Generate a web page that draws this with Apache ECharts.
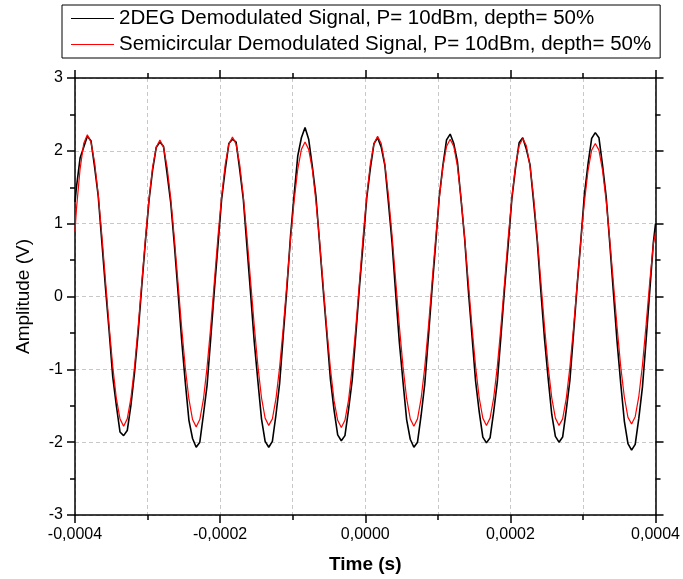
<!DOCTYPE html>
<html>
<head>
<meta charset="utf-8">
<script src="https://cdn.jsdelivr.net/npm/echarts@6/dist/echarts.min.js"></script>
<style>
  html, body { margin: 0; padding: 0; background: #fff; }
  #chart { width: 683px; height: 579px; }
</style>
</head>
<body>
<div id="chart"></div>
<script>
// Sample times in microseconds (converted to seconds below)
const timeUs = [
  -400, -398, -393, -388,
  -383, -378, -373, -368, -363, -358, -353, -348, -343, -338, -333, -328, -323, -318, -313, -308, -303, -298, -293, -288,
  -283, -278, -273, -268, -263, -258, -253, -248, -243, -238, -233, -228, -223, -218, -213, -208, -203, -198, -193, -188,
  -183, -178, -173, -168, -163, -158, -153, -148, -143, -138, -133, -128, -123, -118, -113, -108, -103, -98, -93, -88,
  -83, -78, -73, -68, -63, -58, -53, -48, -43, -38, -33, -28, -23, -18, -13, -8, -3, 2, 7, 12,
  17, 22, 27, 32, 37, 42, 47, 52, 57, 62, 67, 72, 77, 82, 87, 92, 97, 102, 107, 112,
  117, 122, 127, 132, 137, 142, 147, 152, 157, 162, 167, 172, 177, 182, 187, 192, 197, 202, 207, 212,
  217, 222, 227, 232, 237, 242, 247, 252, 257, 262, 267, 272, 277, 282, 287, 292, 297, 302, 307, 312,
  317, 322, 327, 332, 337, 342, 347, 352, 357, 362, 367, 372, 377, 382, 387, 392, 397, 400
];

// 2DEG demodulated signal (V)
const signal2DEG = [
  1.30, 1.50, 1.90, 2.05,
  2.20, 2.14, 1.78, 1.38, 0.75, 0.12, -0.47, -1.10, -1.50, -1.86, -1.91, -1.84, -1.50, -1.05, -0.50, 0.14, 0.75, 1.32, 1.74, 2.05,
  2.12, 2.06, 1.68, 1.28, 0.70, 0.06, -0.60, -1.18, -1.70, -1.95, -2.07, -2.00, -1.62, -1.22, -0.58, 0.08, 0.70, 1.33, 1.74, 2.10,
  2.16, 2.12, 1.74, 1.33, 0.68, 0.04, -0.62, -1.16, -1.68, -1.99, -2.07, -1.99, -1.62, -1.19, -0.53, 0.11, 0.83, 1.40, 1.93, 2.18,
  2.32, 2.16, 1.79, 1.38, 0.74, 0.10, -0.51, -1.14, -1.56, -1.90, -1.98, -1.91, -1.55, -1.15, -0.52, 0.13, 0.72, 1.35, 1.76, 2.10,
  2.18, 2.05, 1.80, 1.28, 0.73, 0.03, -0.63, -1.17, -1.69, -1.96, -2.07, -2.00, -1.63, -1.20, -0.56, 0.10, 0.72, 1.37, 1.80, 2.15,
  2.23, 2.10, 1.85, 1.33, 0.79, 0.09, -0.53, -1.16, -1.58, -1.93, -2.01, -1.94, -1.58, -1.17, -0.54, 0.11, 0.71, 1.34, 1.76, 2.11,
  2.18, 2.02, 1.81, 1.30, 0.76, 0.07, -0.58, -1.12, -1.62, -1.92, -2.00, -1.93, -1.56, -1.15, -0.51, 0.15, 0.76, 1.40, 1.82, 2.17,
  2.25, 2.18, 1.80, 1.37, 0.72, 0.05, -0.62, -1.19, -1.71, -2.02, -2.11, -2.03, -1.67, -1.24, -0.60, 0.07, 0.74, 1.00
];

// Semicircular demodulated signal (V)
const signalSemicircular = [
  0.90, 1.20, 1.75, 2.10,
  2.22, 2.12, 1.84, 1.40, 0.84, 0.22, -0.40, -0.96, -1.40, -1.68, -1.78, -1.68, -1.40, -0.97, -0.42, 0.19, 0.79, 1.34, 1.78, 2.05,
  2.15, 2.05, 1.77, 1.34, 0.79, 0.18, -0.43, -0.98, -1.41, -1.69, -1.79, -1.69, -1.41, -0.97, -0.42, 0.20, 0.82, 1.37, 1.81, 2.09,
  2.19, 2.09, 1.81, 1.37, 0.82, 0.21, -0.40, -0.95, -1.39, -1.67, -1.77, -1.68, -1.40, -0.97, -0.43, 0.18, 0.78, 1.32, 1.75, 2.02,
  2.12, 2.02, 1.75, 1.31, 0.77, 0.16, -0.45, -0.99, -1.43, -1.70, -1.80, -1.70, -1.42, -0.98, -0.42, 0.20, 0.82, 1.38, 1.82, 2.10,
  2.20, 2.10, 1.82, 1.38, 0.83, 0.21, -0.41, -0.96, -1.40, -1.68, -1.78, -1.68, -1.40, -0.97, -0.42, 0.19, 0.80, 1.35, 1.78, 2.06,
  2.16, 2.06, 1.79, 1.35, 0.80, 0.20, -0.41, -0.96, -1.39, -1.67, -1.77, -1.67, -1.39, -0.96, -0.41, 0.20, 0.81, 1.36, 1.79, 2.07,
  2.17, 2.07, 1.79, 1.36, 0.81, 0.20, -0.41, -0.96, -1.39, -1.67, -1.77, -1.68, -1.40, -0.97, -0.43, 0.17, 0.76, 1.30, 1.73, 2.01,
  2.10, 2.01, 1.73, 1.31, 0.77, 0.18, -0.42, -0.96, -1.38, -1.66, -1.75, -1.65, -1.37, -0.94, -0.39, 0.20, 0.72, 0.88
];

const seriesNames = [
  '2DEG Demodulated Signal, P= 10dBm, depth= 50%',
  'Semicircular Demodulated Signal, P= 10dBm, depth= 50%'
];
const xRange = [-0.0004, 0.0004];
const xLabelStep = 0.0002;
const yRange = [-3, 3];
const yLabelStep = 1;

const FONT = '"Liberation Sans", Arial, sans-serif';

function fmtX(v) {
  if (Math.abs(v) < 1e-12) return '0,0000';
  return v.toFixed(4).replace('.', ',');
}

const data2DEG = timeUs.map((t, i) => [t * 1e-6, signal2DEG[i]]);
const dataSemi = timeUs.map((t, i) => [t * 1e-6, signalSemicircular[i]]);

const axisLine = { show: true, onZero: false, lineStyle: { color: '#000', width: 1.5 } };
const gridDash = { show: true, lineStyle: { color: '#c8c8c8', type: [4, 3], width: 1 } };

const chart = echarts.init(document.getElementById('chart'), null, { renderer: 'canvas' });
chart.setOption({
  animation: false,
  backgroundColor: '#fff',
  legend: {
    left: 62,
    top: 5,
    orient: 'vertical',
    icon: 'rect',
    itemWidth: 43,
    itemHeight: 1,
    itemGap: 5,
    padding: [3, 9, 3, 9],
    borderColor: '#000',
    borderWidth: 1,
    textStyle: { fontFamily: FONT, fontSize: 20.5, color: '#000', lineHeight: 21 },
    data: seriesNames
  },
  grid: { left: 75, right: 25, top: 78, bottom: 64, containLabel: false },
  xAxis: [
    {
      type: 'value', min: xRange[0], max: xRange[1], interval: xLabelStep,
      position: 'bottom',
      name: 'Time (s)', nameLocation: 'middle', nameGap: 40,
      nameTextStyle: { fontFamily: FONT, fontSize: 19, fontWeight: 'bold', color: '#000' },
      axisLine: axisLine,
      axisTick: { show: true, inside: false, length: 8, lineStyle: { color: '#000', width: 1.5 } },
      minorTick: { show: true, splitNumber: 2, length: 5, lineStyle: { color: '#000', width: 1.5 } },
      axisLabel: { formatter: fmtX, fontFamily: FONT, fontSize: 16, color: '#000', margin: 12 },
      splitLine: gridDash,
      minorSplitLine: gridDash
    },
    {
      type: 'value', min: xRange[0], max: xRange[1], interval: xLabelStep,
      position: 'top',
      axisLine: axisLine,
      axisTick: { show: true, inside: false, length: 8, lineStyle: { color: '#000', width: 1.5 } },
      minorTick: { show: true, splitNumber: 2, length: 5, lineStyle: { color: '#000', width: 1.5 } },
      axisLabel: { show: false },
      splitLine: { show: false }
    }
  ],
  yAxis: [
    {
      type: 'value', min: yRange[0], max: yRange[1], interval: yLabelStep,
      position: 'left',
      name: 'Amplitude (V)', nameLocation: 'middle', nameGap: 42,
      nameTextStyle: { fontFamily: FONT, fontSize: 19, color: '#000' },
      axisLine: axisLine,
      axisTick: { show: true, inside: false, length: 8, lineStyle: { color: '#000', width: 1.5 } },
      minorTick: { show: true, splitNumber: 2, length: 5, lineStyle: { color: '#000', width: 1.5 } },
      axisLabel: { fontFamily: FONT, fontSize: 16, color: '#000', margin: 12 },
      splitLine: gridDash
    },
    {
      type: 'value', min: yRange[0], max: yRange[1], interval: yLabelStep,
      position: 'right',
      axisLine: axisLine,
      axisTick: { show: true, inside: false, length: 8, lineStyle: { color: '#000', width: 1.5 } },
      minorTick: { show: true, splitNumber: 2, length: 5, lineStyle: { color: '#000', width: 1.5 } },
      axisLabel: { show: false },
      splitLine: { show: false }
    }
  ],
  series: [
    {
      name: seriesNames[0], type: 'line', xAxisIndex: 0, yAxisIndex: 0,
      data: data2DEG, showSymbol: false, symbol: 'none',
      lineStyle: { color: '#000000', width: 1.6 }, itemStyle: { color: '#000000' }
    },
    {
      name: seriesNames[1], type: 'line', xAxisIndex: 0, yAxisIndex: 0,
      data: dataSemi, showSymbol: false, symbol: 'none',
      lineStyle: { color: '#ff0000', width: 1.2 }, itemStyle: { color: '#ff0000' }
    }
  ]
});
</script>
</body>
</html>
